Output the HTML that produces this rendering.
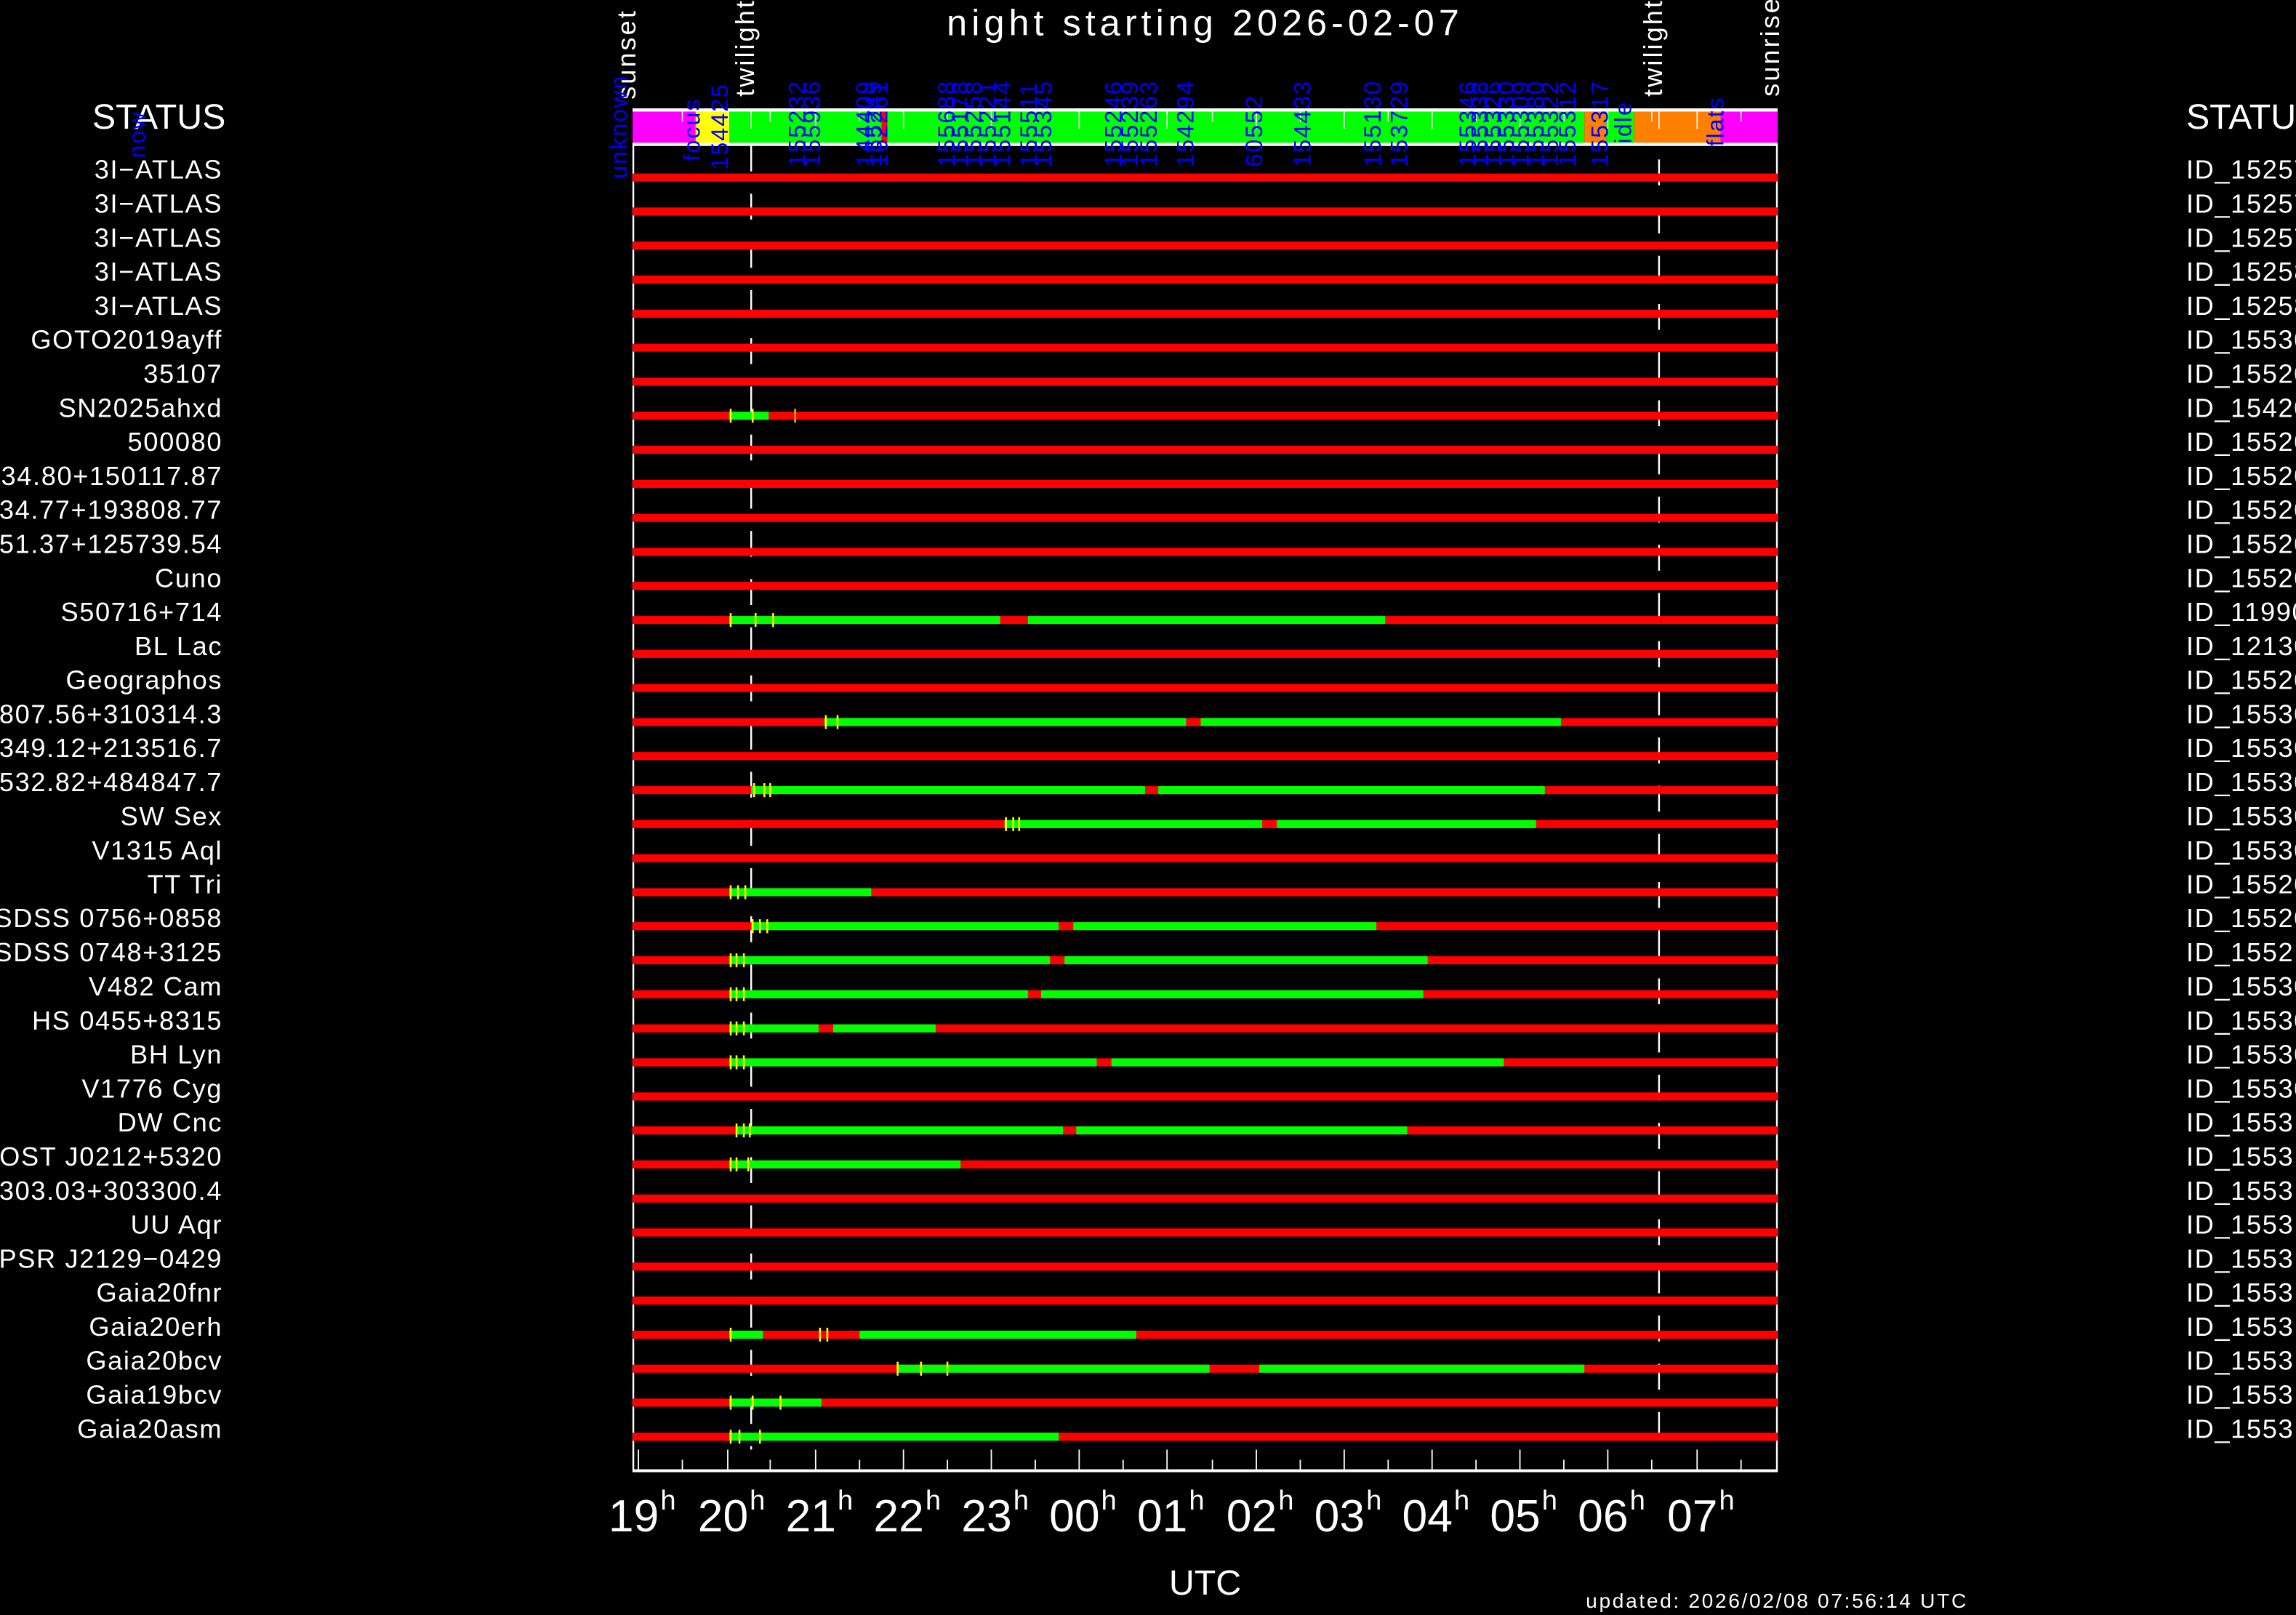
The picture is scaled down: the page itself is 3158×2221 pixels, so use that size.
<!DOCTYPE html>
<html><head><meta charset="utf-8"><style>
html,body{margin:0;padding:0;background:#000;}
svg{display:block;}
text{font-family:"Liberation Sans",sans-serif;}
</style></head><body>
<svg width="3158" height="2221" viewBox="0 0 1568 1103" preserveAspectRatio="none" xmlns="http://www.w3.org/2000/svg">
<rect x="0" y="0" width="1568" height="1103" fill="#000"/>
<text x="823" y="24" fill="#fff" font-size="25" text-anchor="middle" letter-spacing="3">night starting 2026-02-07</text>
<g fill="#fff" font-size="18" letter-spacing="1.5">
<text transform="translate(434,68) rotate(-90)">sunset</text>
<text transform="translate(515,66) rotate(-90)">twilight</text>
<text transform="translate(1135,66) rotate(-90)">twilight</text>
<text transform="translate(1215,66) rotate(-90)">sunrise</text>
</g>
<text x="63" y="88" fill="#fff" font-size="24">STATUS</text>
<text x="1493" y="88" fill="#fff" font-size="24">STATUS</text>
<!-- header bar -->
<rect x="432" y="76" width="43" height="22" fill="#f0f"/>
<rect x="475" y="76" width="23" height="22" fill="#ff0"/>
<rect x="498" y="76" width="584" height="22" fill="#0f0"/>
<rect x="602" y="76" width="4" height="22" fill="#f00"/>
<rect x="1082" y="76" width="15" height="22" fill="#ff8000"/>
<rect x="1097" y="76" width="19" height="22" fill="#0f0"/>
<rect x="1116" y="76" width="59" height="22" fill="#ff8000"/>
<rect x="1175" y="76" width="39" height="22" fill="#f0f"/>
<rect x="432" y="74" width="782" height="2.2" fill="#fff"/>
<rect x="432" y="97.5" width="782" height="2.2" fill="#fff"/>
<g stroke="#fff" stroke-width="0.8">
<line x1="466" y1="76" x2="466" y2="83"/><line x1="497" y1="76" x2="497" y2="88"/><line x1="526" y1="76" x2="526" y2="83"/><line x1="557" y1="76" x2="557" y2="88"/><line x1="587" y1="76" x2="587" y2="83"/><line x1="617" y1="76" x2="617" y2="88"/><line x1="647" y1="76" x2="647" y2="83"/><line x1="677" y1="76" x2="677" y2="88"/><line x1="707" y1="76" x2="707" y2="83"/><line x1="737" y1="76" x2="737" y2="88"/><line x1="767" y1="76" x2="767" y2="83"/><line x1="797" y1="76" x2="797" y2="88"/><line x1="828" y1="76" x2="828" y2="83"/><line x1="858" y1="76" x2="858" y2="88"/><line x1="888" y1="76" x2="888" y2="83"/><line x1="918" y1="76" x2="918" y2="88"/><line x1="948" y1="76" x2="948" y2="83"/><line x1="978" y1="76" x2="978" y2="88"/><line x1="1008" y1="76" x2="1008" y2="83"/><line x1="1038" y1="76" x2="1038" y2="88"/><line x1="1068" y1="76" x2="1068" y2="83"/><line x1="1098" y1="76" x2="1098" y2="88"/><line x1="1128" y1="76" x2="1128" y2="83"/><line x1="1159" y1="76" x2="1159" y2="88"/><line x1="1189" y1="76" x2="1189" y2="83"/>
<line x1="513" y1="76" x2="513" y2="88"/><line x1="1133" y1="76" x2="1133" y2="88"/>
</g>
<!-- blue labels -->
<g fill="#00f" font-size="16" letter-spacing="1">
<text transform="translate(428,122) rotate(-90)">unknown</text>
<text transform="translate(478,110) rotate(-90)">focus</text>
<text transform="translate(497,116) rotate(-90)">154425</text>
<text transform="translate(550,114) rotate(-90)">155232</text>
<text transform="translate(560,114) rotate(-90)">155936</text>
<text transform="translate(596,114) rotate(-90)">144409</text>
<text transform="translate(602,114) rotate(-90)">155249</text>
<text transform="translate(606,114) rotate(-90)">162261</text>
<text transform="translate(652,114) rotate(-90)">155688</text>
<text transform="translate(661,114) rotate(-90)">155178</text>
<text transform="translate(670,114) rotate(-90)">155258</text>
<text transform="translate(680,114) rotate(-90)">155221</text>
<text transform="translate(690,114) rotate(-90)">155144</text>
<text transform="translate(718,114) rotate(-90)">155345</text>
<text transform="translate(708,114) rotate(-90)">155511</text>
<text transform="translate(766,114) rotate(-90)">155246</text>
<text transform="translate(777,114) rotate(-90)">155239</text>
<text transform="translate(790,114) rotate(-90)">155263</text>
<text transform="translate(815,114) rotate(-90)">154294</text>
<text transform="translate(862,114) rotate(-90)">60552</text>
<text transform="translate(895,114) rotate(-90)">154433</text>
<text transform="translate(943,114) rotate(-90)">155130</text>
<text transform="translate(961,114) rotate(-90)">153729</text>
<text transform="translate(1008,114) rotate(-90)">155346</text>
<text transform="translate(1016,114) rotate(-90)">155338</text>
<text transform="translate(1025,114) rotate(-90)">155326</text>
<text transform="translate(1034,114) rotate(-90)">155330</text>
<text transform="translate(1044,114) rotate(-90)">155309</text>
<text transform="translate(1054,114) rotate(-90)">155380</text>
<text transform="translate(1064,114) rotate(-90)">155322</text>
<text transform="translate(1076,114) rotate(-90)">155312</text>
<text transform="translate(1098,114) rotate(-90)">155317</text>
<text transform="translate(1114,98) rotate(-90)">idle</text>
<text transform="translate(1177,100) rotate(-90)">flats</text>
<text transform="translate(99,108) rotate(-90)">now</text>
</g>
<!-- plot frame -->
<g stroke="#fff" stroke-width="1.2">
<line x1="432.5" y1="98" x2="432.5" y2="1005"/>
<line x1="1213.5" y1="98" x2="1213.5" y2="1005"/>
<line x1="432" y1="1004.5" x2="1214" y2="1004.5" stroke-width="2"/>
</g>
<g stroke="#fff" stroke-width="1.2" stroke-dasharray="17.7 15.2">
<line x1="513" y1="99.4" x2="513" y2="990"/>
<line x1="1133" y1="99" x2="1133" y2="990" stroke-dashoffset="23"/>
</g>
<!-- bottom ticks -->
<g stroke="#fff" stroke-width="0.9">
<line x1="436" y1="990" x2="436" y2="1004"/><line x1="466" y1="997" x2="466" y2="1004"/><line x1="497" y1="990" x2="497" y2="1004"/><line x1="526" y1="997" x2="526" y2="1004"/><line x1="557" y1="990" x2="557" y2="1004"/><line x1="587" y1="997" x2="587" y2="1004"/><line x1="617" y1="990" x2="617" y2="1004"/><line x1="647" y1="997" x2="647" y2="1004"/><line x1="677" y1="990" x2="677" y2="1004"/><line x1="707" y1="997" x2="707" y2="1004"/><line x1="737" y1="990" x2="737" y2="1004"/><line x1="767" y1="997" x2="767" y2="1004"/><line x1="797" y1="990" x2="797" y2="1004"/><line x1="828" y1="997" x2="828" y2="1004"/><line x1="858" y1="990" x2="858" y2="1004"/><line x1="888" y1="997" x2="888" y2="1004"/><line x1="918" y1="990" x2="918" y2="1004"/><line x1="948" y1="997" x2="948" y2="1004"/><line x1="978" y1="990" x2="978" y2="1004"/><line x1="1008" y1="997" x2="1008" y2="1004"/><line x1="1038" y1="990" x2="1038" y2="1004"/><line x1="1068" y1="997" x2="1068" y2="1004"/><line x1="1098" y1="990" x2="1098" y2="1004"/><line x1="1128" y1="997" x2="1128" y2="1004"/><line x1="1159" y1="990" x2="1159" y2="1004"/><line x1="1189" y1="997" x2="1189" y2="1004"/>
</g>
<g fill="#fff" font-size="31">
<text x="450" y="1046" text-anchor="end">19</text><text x="451" y="1031" font-size="19">h</text>
<text x="511" y="1046" text-anchor="end">20</text><text x="512" y="1031" font-size="19">h</text>
<text x="571" y="1046" text-anchor="end">21</text><text x="572" y="1031" font-size="19">h</text>
<text x="631" y="1046" text-anchor="end">22</text><text x="632" y="1031" font-size="19">h</text>
<text x="691" y="1046" text-anchor="end">23</text><text x="692" y="1031" font-size="19">h</text>
<text x="751" y="1046" text-anchor="end">00</text><text x="752" y="1031" font-size="19">h</text>
<text x="811" y="1046" text-anchor="end">01</text><text x="812" y="1031" font-size="19">h</text>
<text x="872" y="1046" text-anchor="end">02</text><text x="873" y="1031" font-size="19">h</text>
<text x="932" y="1046" text-anchor="end">03</text><text x="933" y="1031" font-size="19">h</text>
<text x="992" y="1046" text-anchor="end">04</text><text x="993" y="1031" font-size="19">h</text>
<text x="1052" y="1046" text-anchor="end">05</text><text x="1053" y="1031" font-size="19">h</text>
<text x="1112" y="1046" text-anchor="end">06</text><text x="1113" y="1031" font-size="19">h</text>
<text x="1173" y="1046" text-anchor="end">07</text><text x="1174" y="1031" font-size="19">h</text>
</g>
<text x="823" y="1089" fill="#fff" font-size="24" text-anchor="middle">UTC</text>
<text x="1083" y="1098" fill="#fff" font-size="14" letter-spacing="1.3">updated: 2026/02/08 07:56:14 UTC</text>

<!-- rows -->
<g id="rows" font-size="18" fill="#fff" letter-spacing="0.8">
<g transform="translate(0,116)"><text x="152" y="6" text-anchor="end">3I−ATLAS</text><text x="1493" y="6">ID_152577</text><rect x="432" y="2.5" width="782" height="5.5" fill="#f00"/></g>
<g transform="translate(0,139.2)"><text x="152" y="6" text-anchor="end">3I−ATLAS</text><text x="1493" y="6">ID_152578</text><rect x="432" y="2.5" width="782" height="5.5" fill="#f00"/></g>
<g transform="translate(0,162.5)"><text x="152" y="6" text-anchor="end">3I−ATLAS</text><text x="1493" y="6">ID_152579</text><rect x="432" y="2.5" width="782" height="5.5" fill="#f00"/></g>
<g transform="translate(0,185.7)"><text x="152" y="6" text-anchor="end">3I−ATLAS</text><text x="1493" y="6">ID_152580</text><rect x="432" y="2.5" width="782" height="5.5" fill="#f00"/></g>
<g transform="translate(0,209)"><text x="152" y="6" text-anchor="end">3I−ATLAS</text><text x="1493" y="6">ID_152581</text><rect x="432" y="2.5" width="782" height="5.5" fill="#f00"/></g>
<g transform="translate(0,232.2)"><text x="152" y="6" text-anchor="end">GOTO2019ayff</text><text x="1493" y="6">ID_155301</text><rect x="432" y="2.5" width="782" height="5.5" fill="#f00"/></g>
<g transform="translate(0,255.5)"><text x="152" y="6" text-anchor="end">35107</text><text x="1493" y="6">ID_155201</text><rect x="432" y="2.5" width="782" height="5.5" fill="#f00"/></g>
<g transform="translate(0,278.7)"><text x="152" y="6" text-anchor="end">SN2025ahxd</text><text x="1493" y="6">ID_154201</text><rect x="432" y="2.5" width="782" height="5.5" fill="#f00"/><rect x="498" y="2.5" width="27" height="5.5" fill="#0f0"/><g stroke="#ff0" stroke-width="1.3"><line x1="499" y1="0.5" x2="499" y2="10"/><line x1="514" y1="0.5" x2="514" y2="10"/><line x1="543" y1="0.5" x2="543" y2="10" stroke="#fa0"/></g></g>
<g transform="translate(0,301.9)"><text x="152" y="6" text-anchor="end">500080</text><text x="1493" y="6">ID_155202</text><rect x="432" y="2.5" width="782" height="5.5" fill="#f00"/></g>
<g transform="translate(0,325.2)"><text x="152" y="6" text-anchor="end">J0834.80+150117.87</text><text x="1493" y="6">ID_155203</text><rect x="432" y="2.5" width="782" height="5.5" fill="#f00"/></g>
<g transform="translate(0,348.4)"><text x="152" y="6" text-anchor="end">J0734.77+193808.77</text><text x="1493" y="6">ID_155204</text><rect x="432" y="2.5" width="782" height="5.5" fill="#f00"/></g>
<g transform="translate(0,371.7)"><text x="152" y="6" text-anchor="end">J0651.37+125739.54</text><text x="1493" y="6">ID_155205</text><rect x="432" y="2.5" width="782" height="5.5" fill="#f00"/></g>
<g transform="translate(0,394.9)"><text x="152" y="6" text-anchor="end">Cuno</text><text x="1493" y="6">ID_155206</text><rect x="432" y="2.5" width="782" height="5.5" fill="#f00"/></g>
<g transform="translate(0,418.2)"><text x="152" y="6" text-anchor="end">S50716+714</text><text x="1493" y="6">ID_119901</text><rect x="432" y="2.5" width="782" height="5.5" fill="#f00"/><rect x="498" y="2.5" width="185" height="5.5" fill="#0f0"/><rect x="702" y="2.5" width="244" height="5.5" fill="#0f0"/><g stroke="#ff0" stroke-width="1.3"><line x1="499" y1="0.5" x2="499" y2="10"/><line x1="516" y1="0.5" x2="516" y2="10"/><line x1="528" y1="0.5" x2="528" y2="10"/></g></g>
<g transform="translate(0,441.4)"><text x="152" y="6" text-anchor="end">BL Lac</text><text x="1493" y="6">ID_121301</text><rect x="432" y="2.5" width="782" height="5.5" fill="#f00"/></g>
<g transform="translate(0,464.6)"><text x="152" y="6" text-anchor="end">Geographos</text><text x="1493" y="6">ID_155207</text><rect x="432" y="2.5" width="782" height="5.5" fill="#f00"/></g>
<g transform="translate(0,487.9)"><text x="152" y="6" text-anchor="end">J080807.56+310314.3</text><text x="1493" y="6">ID_155301</text><rect x="432" y="2.5" width="782" height="5.5" fill="#f00"/><rect x="563" y="2.5" width="247" height="5.5" fill="#0f0"/><rect x="820" y="2.5" width="246" height="5.5" fill="#0f0"/><g stroke="#ff0" stroke-width="1.3"><line x1="564" y1="0.5" x2="564" y2="10"/><line x1="572" y1="0.5" x2="572" y2="10"/></g></g>
<g transform="translate(0,511.1)"><text x="152" y="6" text-anchor="end">J071349.12+213516.7</text><text x="1493" y="6">ID_155302</text><rect x="432" y="2.5" width="782" height="5.5" fill="#f00"/></g>
<g transform="translate(0,534.4)"><text x="152" y="6" text-anchor="end">J065532.82+484847.7</text><text x="1493" y="6">ID_155303</text><rect x="432" y="2.5" width="782" height="5.5" fill="#f00"/><rect x="513" y="2.5" width="269" height="5.5" fill="#0f0"/><rect x="791" y="2.5" width="264" height="5.5" fill="#0f0"/><g stroke="#ff0" stroke-width="1.3"><line x1="515" y1="0.5" x2="515" y2="10"/><line x1="522" y1="0.5" x2="522" y2="10"/><line x1="526" y1="0.5" x2="526" y2="10"/></g></g>
<g transform="translate(0,557.6)"><text x="152" y="6" text-anchor="end">SW Sex</text><text x="1493" y="6">ID_155304</text><rect x="432" y="2.5" width="782" height="5.5" fill="#f00"/><rect x="686" y="2.5" width="176" height="5.5" fill="#0f0"/><rect x="872" y="2.5" width="177" height="5.5" fill="#0f0"/><g stroke="#ff0" stroke-width="1.3"><line x1="687" y1="0.5" x2="687" y2="10"/><line x1="692" y1="0.5" x2="692" y2="10"/><line x1="696" y1="0.5" x2="696" y2="10"/></g></g>
<g transform="translate(0,580.9)"><text x="152" y="6" text-anchor="end">V1315 Aql</text><text x="1493" y="6">ID_155305</text><rect x="432" y="2.5" width="782" height="5.5" fill="#f00"/></g>
<g transform="translate(0,604.1)"><text x="152" y="6" text-anchor="end">TT Tri</text><text x="1493" y="6">ID_155208</text><rect x="432" y="2.5" width="782" height="5.5" fill="#f00"/><rect x="498" y="2.5" width="97" height="5.5" fill="#0f0"/><g stroke="#ff0" stroke-width="1.3"><line x1="499" y1="0.5" x2="499" y2="10"/><line x1="504" y1="0.5" x2="504" y2="10"/><line x1="509" y1="0.5" x2="509" y2="10"/></g></g>
<g transform="translate(0,627.3)"><text x="152" y="6" text-anchor="end">SDSS 0756+0858</text><text x="1493" y="6">ID_155209</text><rect x="432" y="2.5" width="782" height="5.5" fill="#f00"/><rect x="513" y="2.5" width="210" height="5.5" fill="#0f0"/><rect x="733" y="2.5" width="207" height="5.5" fill="#0f0"/><g stroke="#ff0" stroke-width="1.3"><line x1="514" y1="0.5" x2="514" y2="10"/><line x1="519" y1="0.5" x2="519" y2="10"/><line x1="524" y1="0.5" x2="524" y2="10"/></g></g>
<g transform="translate(0,650.6)"><text x="152" y="6" text-anchor="end">SDSS 0748+3125</text><text x="1493" y="6">ID_155210</text><rect x="432" y="2.5" width="782" height="5.5" fill="#f00"/><rect x="498" y="2.5" width="219" height="5.5" fill="#0f0"/><rect x="727" y="2.5" width="248" height="5.5" fill="#0f0"/><g stroke="#ff0" stroke-width="1.3"><line x1="499" y1="0.5" x2="499" y2="10"/><line x1="503" y1="0.5" x2="503" y2="10"/><line x1="508" y1="0.5" x2="508" y2="10"/></g></g>
<g transform="translate(0,673.8)"><text x="152" y="6" text-anchor="end">V482 Cam</text><text x="1493" y="6">ID_155306</text><rect x="432" y="2.5" width="782" height="5.5" fill="#f00"/><rect x="498" y="2.5" width="204" height="5.5" fill="#0f0"/><rect x="711" y="2.5" width="261" height="5.5" fill="#0f0"/><g stroke="#ff0" stroke-width="1.3"><line x1="499" y1="0.5" x2="499" y2="10"/><line x1="503" y1="0.5" x2="503" y2="10"/><line x1="508" y1="0.5" x2="508" y2="10"/></g></g>
<g transform="translate(0,697.1)"><text x="152" y="6" text-anchor="end">HS 0455+8315</text><text x="1493" y="6">ID_155307</text><rect x="432" y="2.5" width="782" height="5.5" fill="#f00"/><rect x="498" y="2.5" width="61" height="5.5" fill="#0f0"/><rect x="569" y="2.5" width="70" height="5.5" fill="#0f0"/><g stroke="#ff0" stroke-width="1.3"><line x1="499" y1="0.5" x2="499" y2="10"/><line x1="503" y1="0.5" x2="503" y2="10"/><line x1="508" y1="0.5" x2="508" y2="10"/></g></g>
<g transform="translate(0,720.3)"><text x="152" y="6" text-anchor="end">BH Lyn</text><text x="1493" y="6">ID_155308</text><rect x="432" y="2.5" width="782" height="5.5" fill="#f00"/><rect x="498" y="2.5" width="251" height="5.5" fill="#0f0"/><rect x="759" y="2.5" width="268" height="5.5" fill="#0f0"/><g stroke="#ff0" stroke-width="1.3"><line x1="499" y1="0.5" x2="499" y2="10"/><line x1="503" y1="0.5" x2="503" y2="10"/><line x1="508" y1="0.5" x2="508" y2="10"/></g></g>
<g transform="translate(0,743.6)"><text x="152" y="6" text-anchor="end">V1776 Cyg</text><text x="1493" y="6">ID_155309</text><rect x="432" y="2.5" width="782" height="5.5" fill="#f00"/></g>
<g transform="translate(0,766.8)"><text x="152" y="6" text-anchor="end">DW Cnc</text><text x="1493" y="6">ID_155310</text><rect x="432" y="2.5" width="782" height="5.5" fill="#f00"/><rect x="503" y="2.5" width="223" height="5.5" fill="#0f0"/><rect x="735" y="2.5" width="226" height="5.5" fill="#0f0"/><g stroke="#ff0" stroke-width="1.3"><line x1="503" y1="0.5" x2="503" y2="10"/><line x1="508" y1="0.5" x2="508" y2="10"/><line x1="512" y1="0.5" x2="512" y2="10"/></g></g>
<g transform="translate(0,790)"><text x="152" y="6" text-anchor="end">LAMOST J0212+5320</text><text x="1493" y="6">ID_155311</text><rect x="432" y="2.5" width="782" height="5.5" fill="#f00"/><rect x="498" y="2.5" width="158" height="5.5" fill="#0f0"/><g stroke="#ff0" stroke-width="1.3"><line x1="499" y1="0.5" x2="499" y2="10"/><line x1="503" y1="0.5" x2="503" y2="10"/><line x1="511" y1="0.5" x2="511" y2="10"/></g></g>
<g transform="translate(0,813.3)"><text x="152" y="6" text-anchor="end">J080303.03+303300.4</text><text x="1493" y="6">ID_155312</text><rect x="432" y="2.5" width="782" height="5.5" fill="#f00"/></g>
<g transform="translate(0,836.5)"><text x="152" y="6" text-anchor="end">UU Aqr</text><text x="1493" y="6">ID_155313</text><rect x="432" y="2.5" width="782" height="5.5" fill="#f00"/></g>
<g transform="translate(0,859.8)"><text x="152" y="6" text-anchor="end">PSR J2129−0429</text><text x="1493" y="6">ID_155314</text><rect x="432" y="2.5" width="782" height="5.5" fill="#f00"/></g>
<g transform="translate(0,883)"><text x="152" y="6" text-anchor="end">Gaia20fnr</text><text x="1493" y="6">ID_155315</text><rect x="432" y="2.5" width="782" height="5.5" fill="#f00"/></g>
<g transform="translate(0,906.3)"><text x="152" y="6" text-anchor="end">Gaia20erh</text><text x="1493" y="6">ID_155316</text><rect x="432" y="2.5" width="782" height="5.5" fill="#f00"/><rect x="498" y="2.5" width="23" height="5.5" fill="#0f0"/><rect x="587" y="2.5" width="189" height="5.5" fill="#0f0"/><g stroke="#ff0" stroke-width="1.3"><line x1="499" y1="0.5" x2="499" y2="10"/><line x1="560" y1="0.5" x2="560" y2="10"/><line x1="565" y1="0.5" x2="565" y2="10"/></g></g>
<g transform="translate(0,929.5)"><text x="152" y="6" text-anchor="end">Gaia20bcv</text><text x="1493" y="6">ID_155317</text><rect x="432" y="2.5" width="782" height="5.5" fill="#f00"/><rect x="613" y="2.5" width="213" height="5.5" fill="#0f0"/><rect x="860" y="2.5" width="222" height="5.5" fill="#0f0"/><g stroke="#ff0" stroke-width="1.3"><line x1="613" y1="0.5" x2="613" y2="10"/><line x1="629" y1="0.5" x2="629" y2="10"/><line x1="647" y1="0.5" x2="647" y2="10"/></g></g>
<g transform="translate(0,952.7)"><text x="152" y="6" text-anchor="end">Gaia19bcv</text><text x="1493" y="6">ID_155318</text><rect x="432" y="2.5" width="782" height="5.5" fill="#f00"/><rect x="498" y="2.5" width="63" height="5.5" fill="#0f0"/><g stroke="#ff0" stroke-width="1.3"><line x1="499" y1="0.5" x2="499" y2="10"/><line x1="514" y1="0.5" x2="514" y2="10"/><line x1="533" y1="0.5" x2="533" y2="10"/></g></g>
<g transform="translate(0,976)"><text x="152" y="6" text-anchor="end">Gaia20asm</text><text x="1493" y="6">ID_155319</text><rect x="432" y="2.5" width="782" height="5.5" fill="#f00"/><rect x="498" y="2.5" width="225" height="5.5" fill="#0f0"/><g stroke="#ff0" stroke-width="1.3"><line x1="499" y1="0.5" x2="499" y2="10"/><line x1="505" y1="0.5" x2="505" y2="10"/><line x1="519" y1="0.5" x2="519" y2="10"/></g></g>
</g>
</svg>
</body></html>
